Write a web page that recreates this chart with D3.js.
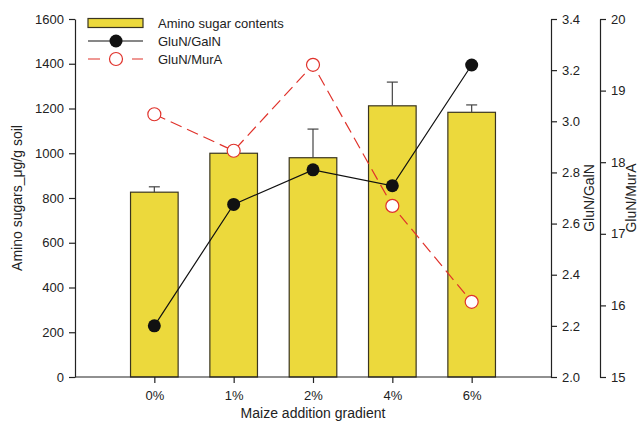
<!DOCTYPE html>
<html lang="en">
<head>
  <meta charset="UTF-8">
  <title>Amino sugars</title>
  <script src="https://cdn.jsdelivr.net/npm/d3@7"></script>
  <style>
    body { margin: 0; background: #fff; }
    text { font-family: "Liberation Sans", Arial, sans-serif; fill: #222; }
  </style>
</head>
<body>
  <svg id="chart"></svg>
  <script>
    // data
    var groups = ['0%', '1%', '2%', '4%', '6%'];
    var aminoSugar = [826, 1000, 980, 1212, 1183];
    var aminoErr = [24, 2, 128, 106, 33];
    var glunGaln = [2.20, 2.675, 2.81, 2.748, 3.22];
    var glunMura = [18.67, 18.16, 19.36, 17.39, 16.05];

    var width = 641, height = 425;
    var margin = { top: 19, left: 75, right: 90, bottom: 48 };
    var x0 = margin.left, x1 = width - margin.right; // 75 .. 551
    var y0 = height - margin.bottom, y1 = margin.top; // 377 .. 19

    var svg = d3.select('#chart')
        .attr('width', width)
        .attr('height', height);

    var x = d3.scalePoint().domain(groups).range([x0, x1]).padding(1);
    var yL = d3.scaleLinear().domain([0, 1600]).range([y0, y1]);
    var yR1 = d3.scaleLinear().domain([2.0, 3.4]).range([y0, y1]);
    var yR2 = d3.scaleLinear().domain([15, 20]).range([y0, y1]);
    var barW = x.step() * 0.6;

    var yellow = '#ecd93c', red = '#e0322b';

    // bars
    var bars = svg.append('g');
    bars.selectAll('rect')
        .data(groups)
        .enter()
        .append('rect')
        .attr('x', function(d) { return x(d) - barW / 2; })
        .attr('y', function(d, i) { return yL(aminoSugar[i]); })
        .attr('width', barW)
        .attr('height', function(d, i) { return y0 - yL(aminoSugar[i]); })
        .attr('fill', yellow)
        .attr('stroke', '#3a3520')
        .attr('stroke-width', 1.2);

    // error bars (upper only)
    var err = svg.append('g').attr('stroke', '#444').attr('stroke-width', 1.2);
    groups.forEach(function(d, i) {
      var top = yL(aminoSugar[i] + aminoErr[i]);
      err.append('line').attr('x1', x(d)).attr('x2', x(d))
          .attr('y1', yL(aminoSugar[i])).attr('y2', top);
      err.append('line').attr('x1', x(d) - 5.5).attr('x2', x(d) + 5.5)
          .attr('y1', top).attr('y2', top);
    });

    // GluN/GalN line
    var lineG = d3.line()
        .x(function(d, i) { return x(groups[i]); })
        .y(function(d) { return yR1(d); });
    svg.append('path')
        .attr('d', lineG(glunGaln))
        .attr('fill', 'none')
        .attr('stroke', '#111')
        .attr('stroke-width', 1.2);

    // GluN/MurA line
    var lineM = d3.line()
        .x(function(d, i) { return x(groups[i]); })
        .y(function(d) { return yR2(d); });
    svg.append('path')
        .attr('d', lineM(glunMura))
        .attr('fill', 'none')
        .attr('stroke', red)
        .attr('stroke-width', 1.2)
        .attr('stroke-dasharray', '12,6');

    svg.append('g').selectAll('circle')
        .data(glunGaln)
        .enter()
        .append('circle')
        .attr('cx', function(d, i) { return x(groups[i]); })
        .attr('cy', function(d) { return yR1(d); })
        .attr('r', 6.5)
        .attr('fill', '#111');

    svg.append('g').selectAll('circle')
        .data(glunMura)
        .enter()
        .append('circle')
        .attr('cx', function(d, i) { return x(groups[i]); })
        .attr('cy', function(d) { return yR2(d); })
        .attr('r', 6.5)
        .attr('fill', '#fff')
        .attr('stroke', red)
        .attr('stroke-width', 1.2);

    // axes
    function styleAxis(g) {
      g.selectAll('path, line').attr('stroke', '#222').attr('stroke-width', 1.2);
      g.selectAll('text').style('font-size', '13px').attr('fill', '#222');
    }

    svg.append('g')
        .attr('transform', 'translate(' + x0 + ',0)')
        .call(d3.axisLeft(yL).tickValues(d3.range(0, 1601, 200)).tickFormat(d3.format('d'))
            .tickSize(6).tickSizeOuter(0).tickPadding(5))
        .call(styleAxis);

    svg.append('g')
        .attr('transform', 'translate(' + x1 + ',0)')
        .call(d3.axisRight(yR1).tickValues(d3.range(2.0, 3.41, 0.2)).tickFormat(d3.format('.1f'))
            .tickSize(6).tickSizeOuter(0).tickPadding(5))
        .call(styleAxis);

    svg.append('g')
        .attr('transform', 'translate(600,0)')
        .call(d3.axisRight(yR2).tickValues(d3.range(15, 21, 1)).tickFormat(d3.format('d'))
            .tickSize(6).tickSizeOuter(0).tickPadding(5))
        .call(styleAxis);

    var xAxis = svg.append('g')
        .attr('transform', 'translate(0,' + y0 + ')')
        .call(d3.axisBottom(x).tickSize(6).tickSizeOuter(0).tickPadding(8))
        .call(styleAxis);
    xAxis.select('.domain').attr('d', 'M' + x0 + ',0H' + x1);

    // axis titles
    svg.append('text')
        .attr('transform', 'translate(22,' + ((y0 + y1) / 2) + ') rotate(-90)')
        .attr('text-anchor', 'middle')
        .style('font-size', '14px')
        .text('Amino sugars_μg/g soil');

    svg.append('text')
        .attr('transform', 'translate(594,' + ((y0 + y1) / 2) + ') rotate(-90)')
        .attr('text-anchor', 'middle')
        .style('font-size', '14px')
        .text('GluN/GalN');

    svg.append('text')
        .attr('transform', 'translate(636,' + ((y0 + y1) / 2) + ') rotate(-90)')
        .attr('text-anchor', 'middle')
        .style('font-size', '14px')
        .text('GluN/MurA');

    svg.append('text')
        .attr('x', (x0 + x1) / 2)
        .attr('y', 418)
        .attr('text-anchor', 'middle')
        .style('font-size', '14px')
        .text('Maize addition gradient');

    // legend
    var legend = svg.append('g').attr('transform', 'translate(88,23)');
    legend.append('rect')
        .attr('x', 0).attr('y', -4.5).attr('width', 55).attr('height', 9)
        .attr('fill', yellow).attr('stroke', '#3a3520').attr('stroke-width', 1.2);
    legend.append('line').attr('x1', 0).attr('x2', 55).attr('y1', 18).attr('y2', 18)
        .attr('stroke', '#111').attr('stroke-width', 1.2);
    legend.append('circle').attr('cx', 28).attr('cy', 18).attr('r', 6.5).attr('fill', '#111');
    legend.append('line').attr('x1', 0).attr('x2', 55).attr('y1', 36).attr('y2', 36)
        .attr('stroke', red).attr('stroke-width', 1.2).attr('stroke-dasharray', '12,10');
    legend.append('circle').attr('cx', 28).attr('cy', 36).attr('r', 6.5)
        .attr('fill', '#fff').attr('stroke', red).attr('stroke-width', 1.2);
    var labels = ['Amino sugar contents', 'GluN/GalN', 'GluN/MurA'];
    legend.selectAll('text.lg')
        .data(labels)
        .enter()
        .append('text')
        .attr('class', 'lg')
        .attr('x', 70)
        .attr('y', function(d, i) { return i * 18; })
        .attr('dy', '0.35em')
        .style('font-size', '13px')
        .text(function(d) { return d; });
  </script>
</body>
</html>
